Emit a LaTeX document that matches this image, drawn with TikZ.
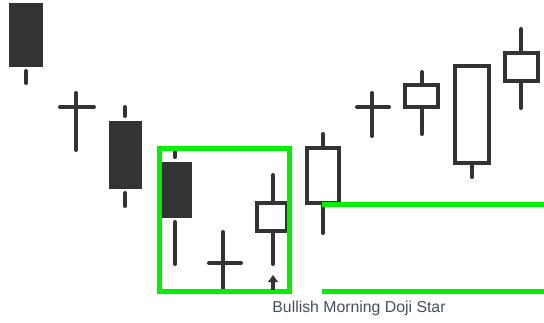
\documentclass[tikz,border=0pt]{standalone}
\usepackage{fontspec}
\setmainfont{Liberation Sans}
\usetikzlibrary{arrows.meta}
\definecolor{candle}{RGB}{51,51,51}
\definecolor{signal}{RGB}{0,240,0}
\definecolor{caption}{RGB}{70,78,96}
\begin{document}
\begin{tikzpicture}[x=0.02cm, y=-0.02cm]
        \tikzstyle{wick} = [candle, line width=2.3pt, line cap=round]
        \tikzstyle{bearbody} = [fill=candle]
        \tikzstyle{bullbody} = [draw=candle, line width=2.3pt]
        \tikzstyle{highlight} = [signal, line width=2.8pt]
        \tikzstyle{arrow} = [candle, line width=2pt, -{Triangle[width=5.5pt,length=4pt]}]

        \useasboundingbox (0,0) rectangle (544,322);

        % falling candles
        \fill [bearbody] (9,3) rectangle (43,67);
        \draw [wick] (26,71) -- (26,83);
        \draw [wick] (60,107) -- (94,107);
        \draw [wick] (76,93) -- (76,150);
        \fill [bearbody] (109,121) rectangle (142,189);
        \draw [wick] (125,107) -- (125,116);
        \draw [wick] (125,193) -- (125,206);

        % the pattern
        \fill [bearbody] (161,162) rectangle (192,218);
        \draw [wick] (175,152) -- (175,157);
        \draw [wick] (175,222) -- (175,264);
        \draw [wick] (209,263) -- (241,263);
        \draw [wick] (223,232) -- (223,291);
        \draw [bullbody] (257,203) rectangle (287,231);
        \draw [wick] (273,175) -- (273,203);
        \draw [wick] (273,231) -- (273,264);

        % rising candles
        \draw [bullbody] (307,148) rectangle (339,203);
        \draw [wick] (323,134) -- (323,148);
        \draw [wick] (323,203) -- (323,233);
        \draw [wick] (357,107) -- (389,107);
        \draw [wick] (372,93) -- (372,136);
        \draw [bullbody] (405,85) rectangle (438,107);
        \draw [wick] (422,72) -- (422,85);
        \draw [wick] (422,107) -- (422,134);
        \draw [bullbody] (455,66) rectangle (489,163);
        \draw [wick] (472,163) -- (472,177);
        \draw [bullbody] (505,53) rectangle (538,81);
        \draw [wick] (521,29) -- (521,53);
        \draw [wick] (521,81) -- (521,108);

        % pattern box and levels
        \draw [highlight] (159.5,148.5) rectangle (289.5,291.5);
        \draw [highlight] (322,204.5) -- (544,204.5);
        \draw [highlight] (322,291.5) -- (544,291.5);

        \coordinate (tail) at (273,290);
        \coordinate (tip) at (273,275);
        \draw [arrow] (tail) -- (tip);

        \node (pattern) [caption, font=\fontsize{9}{10}\selectfont] at (359,308) {Bullish Morning Doji Star};
\end{tikzpicture}
\end{document}
